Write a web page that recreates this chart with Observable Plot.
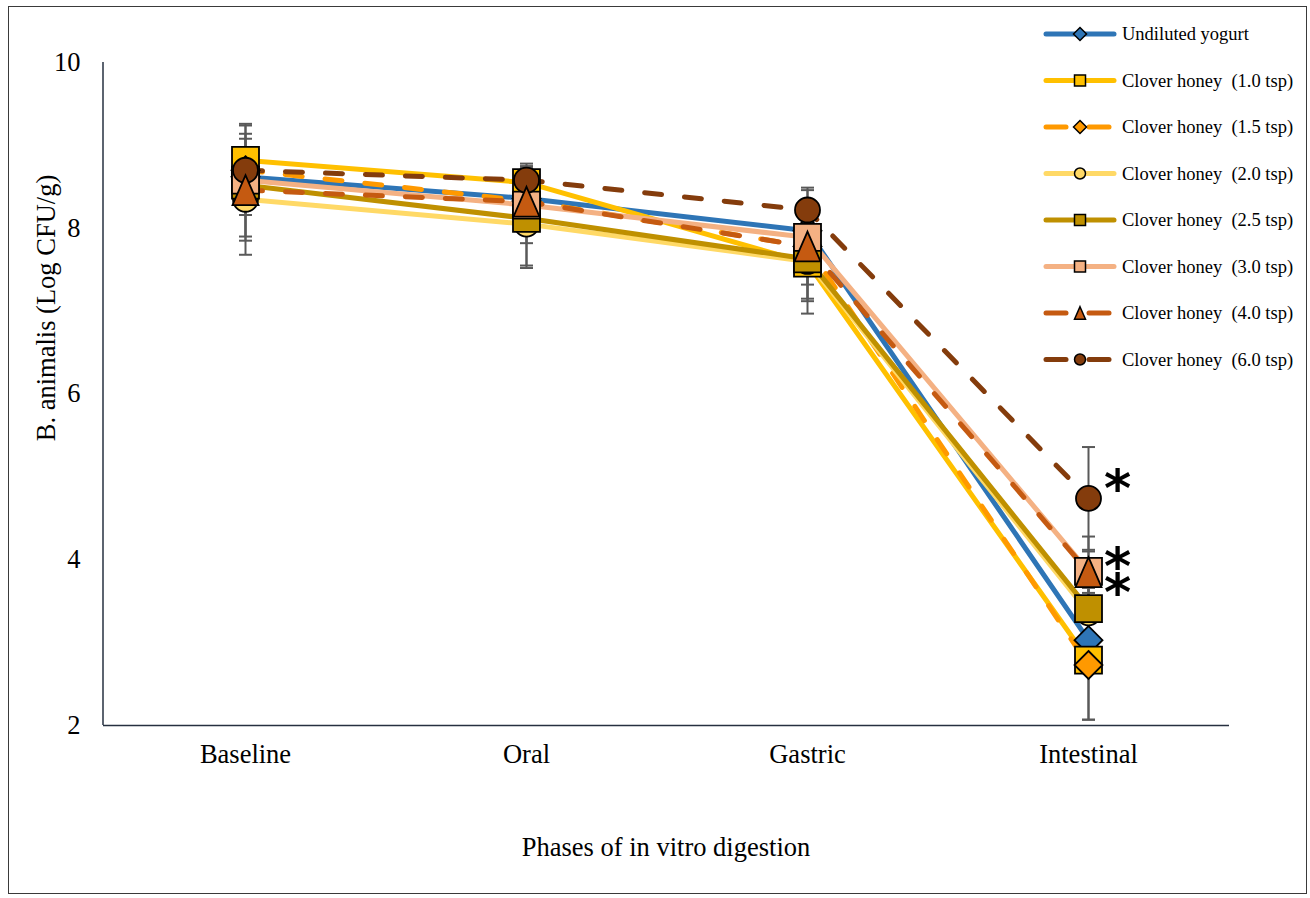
<!DOCTYPE html>
<html><head><meta charset="utf-8">
<script src="https://cdn.jsdelivr.net/npm/d3@7"></script>
<script src="https://cdn.jsdelivr.net/npm/@observablehq/plot@0.6"></script>
<style>
body{margin:0;background:#fff;}
#wrap{position:relative;width:1310px;height:898px;font-family:"Liberation Serif","Times New Roman",serif;overflow:hidden;}
#frame{position:absolute;left:8px;top:6px;width:1299px;height:888px;border:1.5px solid #3a3a3a;box-sizing:border-box;pointer-events:none;}
#chart{position:absolute;left:0;top:0;}
#legend{position:absolute;left:0;top:0;}
</style></head><body>
<div id="wrap"><div id="chart"></div><svg id="legend" width="1310" height="898"></svg><div id="frame"></div></div>
<script>
const phases = ["Baseline", "Oral", "Gastric", "Intestinal"];
const seriesNames = ["Undiluted yogurt","Clover honey  (1.0 tsp)","Clover honey  (1.5 tsp)","Clover honey  (2.0 tsp)","Clover honey  (2.5 tsp)","Clover honey  (3.0 tsp)","Clover honey  (4.0 tsp)","Clover honey  (6.0 tsp)"];
const seriesColors = ["#2E75B6","#FFC000","#FF9900","#FFD966","#BF9000","#F4B183","#C55A11","#843C0C"];
const seriesDashed = [false,false,true,false,false,false,true,true];
const seriesMarkers = ["diamond","square","diamond","circle","square","square","triangle","circle"];

const meanYogurt  = [8.62, 8.36, 7.97, 3.03];
const meanHoney10 = [8.82, 8.55, 7.58, 2.79];
const meanHoney15 = [8.70, 8.33, 7.78, 2.73];
const meanHoney20 = [8.35, 8.05, 7.60, 3.36];
const meanHoney25 = [8.52, 8.12, 7.63, 3.41];
const meanHoney30 = [8.58, 8.28, 7.89, 3.86];
const meanHoney40 = [8.46, 8.32, 7.78, 3.85];
const meanHoney60 = [8.70, 8.58, 8.22, 4.74];

const sdYogurt  = [0.46, 0.20, 0.20, 0.30];
const sdHoney10 = [0.44, 0.20, 0.46, 0.72];
const sdHoney15 = [0.20, 0.20, 0.20, 0.66];
const sdHoney20 = [0.50, 0.50, 0.45, 0.30];
const sdHoney25 = [0.62, 0.60, 0.66, 0.30];
const sdHoney30 = [0.25, 0.46, 0.57, 0.42];
const sdHoney40 = [0.78, 0.25, 0.25, 0.25];
const sdHoney60 = [0.25, 0.20, 0.27, 0.62];

const yTicks = [2, 4, 6, 8, 10];
const yTitle = "B. animalis (Log CFU/g)";
const xTitle = "Phases of in vitro digestion";
// significance marks at the intestinal phase: anchor series and the asterisk text
const starSeries = ["Clover honey  (6.0 tsp)", "Clover honey  (3.0 tsp)"];
const starTexts = ["*", "*\n*"];

const allMeans = [meanYogurt, meanHoney10, meanHoney15, meanHoney20, meanHoney25, meanHoney30, meanHoney40, meanHoney60];
const allSds = [sdYogurt, sdHoney10, sdHoney15, sdHoney20, sdHoney25, sdHoney30, sdHoney40, sdHoney60];
const rows = [];
seriesNames.forEach((s, i) => phases.forEach((p, j) => rows.push({series: s, phase: p, mean: allMeans[i][j], sd: allSds[i][j]})));

const shapes = {
  square: {draw(ctx, size){const r = Math.sqrt(size/Math.PI); ctx.rect(-r,-r,2*r,2*r);}},
  circle: {draw(ctx, size){const r = Math.sqrt(size/Math.PI); ctx.moveTo(r,0); ctx.arc(0,0,r,0,2*Math.PI);}},
  diamond: {draw(ctx, size){const r = Math.sqrt(size/Math.PI); ctx.moveTo(0,-r); ctx.lineTo(r,0); ctx.lineTo(0,r); ctx.lineTo(-r,0); ctx.closePath();}},
  triangle: {draw(ctx, size){const r = Math.sqrt(size/Math.PI); ctx.moveTo(0,-1.15*r); ctx.lineTo(r,1.15*r); ctx.lineTo(-r,1.15*r); ctx.closePath();}},
  hline: {draw(ctx, size){const r = Math.sqrt(size/Math.PI); ctx.moveTo(-r,0); ctx.lineTo(r,0);}}
};
const markerR = {square: 13.5, circle: 12.5, diamond: 14, triangle: 13};
const legendR = {square: 5.5, circle: 5.5, diamond: 6.5, triangle: 5.5};

const W = 1310, H = 898, mL = 103, mR = 81, mT = 62, mB = 173;

const lineMarks = seriesNames.map((s, i) => Plot.line(rows.filter(d => d.series === s), {
  x: "phase", y: "mean", stroke: seriesColors[i], strokeWidth: 5,
  strokeDasharray: seriesDashed[i] ? "17,23" : null, strokeLinecap: "round", strokeLinejoin: "round"
}));
const errRule = Plot.ruleX(rows, {x: "phase", y1: d => d.mean - d.sd, y2: d => d.mean + d.sd, stroke: "#595959", strokeWidth: 2});
const capLo = Plot.dot(rows, {x: "phase", y: d => d.mean - d.sd, symbol: shapes.hline, r: 6.5, stroke: "#595959", strokeWidth: 2, fill: "none"});
const capHi = Plot.dot(rows, {x: "phase", y: d => d.mean + d.sd, symbol: shapes.hline, r: 6.5, stroke: "#595959", strokeWidth: 2, fill: "none"});
const markerOrder = [0,1,2,3,4,5,7,6];
const markerMarks = markerOrder.map(i => Plot.dot(rows.filter(d => d.series === seriesNames[i]), {
  x: "phase", y: "mean", symbol: shapes[seriesMarkers[i]], r: markerR[seriesMarkers[i]],
  fill: seriesColors[i], stroke: "#000", strokeWidth: 1.8
}));
const starShift = [-1, 17];
const starMarks = starSeries.map((s, k) => Plot.text(rows.filter(d => d.series === s && d.phase === "Intestinal"), {
  x: "phase", y: "mean", text: () => starTexts[k], dx: 29, dy: starShift[k], fontSize: 52, lineHeight: 0.5,
  fontWeight: "bold", fontFamily: "DejaVu Sans", fill: "#000", textAnchor: "middle"
}));

const chart = Plot.plot({
  width: W, height: H, marginLeft: mL, marginRight: mR, marginTop: mT, marginBottom: mB,
  style: {fontFamily: "'Liberation Serif', 'Times New Roman', serif", fontSize: "26.5px", color: "#000", background: "transparent"},
  x: {type: "point", domain: phases, padding: 0.5, label: null, tickSize: 0, tickPadding: 19},
  y: {domain: [2, 10], ticks: yTicks, label: null, tickSize: 0, tickPadding: 23},
  marks: [
    ...lineMarks,
    errRule, capLo, capHi,
    ...markerMarks,
    ...starMarks,
    Plot.ruleY([2], {stroke: "#263040", strokeWidth: 1.5})
  ]
});
document.getElementById("chart").appendChild(chart);

const svg = d3.select(chart);
svg.append("line").attr("x1", mL).attr("x2", mL).attr("y1", mT).attr("y2", H - mB)
  .attr("stroke", "#263040").attr("stroke-width", 1.5);
svg.append("text").attr("transform", "translate(46,308) rotate(-90)").attr("text-anchor", "middle")
  .attr("dominant-baseline", "central").attr("font-size", 26.5).attr("fill", "#000").text(yTitle);
svg.append("text").attr("x", (mL + W - mR) / 2).attr("y", 847).attr("text-anchor", "middle")
  .attr("dominant-baseline", "central").attr("font-size", 26.5).attr("fill", "#000").text(xTitle);

// legend
const lg = d3.select("#legend");
seriesNames.forEach((s, i) => {
  const y = 34 + i * 46.5;
  const g = lg.append("g");
  if (seriesDashed[i]) {
    g.append("line").attr("x1", 1046).attr("x2", 1066).attr("y1", y).attr("y2", y).attr("stroke", seriesColors[i]).attr("stroke-width", 5).attr("stroke-linecap", "round");
    g.append("line").attr("x1", 1089).attr("x2", 1109).attr("y1", y).attr("y2", y).attr("stroke", seriesColors[i]).attr("stroke-width", 5).attr("stroke-linecap", "round");
  } else {
    g.append("line").attr("x1", 1046).attr("x2", 1114).attr("y1", y).attr("y2", y).attr("stroke", seriesColors[i]).attr("stroke-width", 5).attr("stroke-linecap", "round");
  }
  const m = seriesMarkers[i], r = legendR[m];
  g.append("path").attr("transform", `translate(1080,${y})`).attr("d", d3.symbol(shapes[m], Math.PI * r * r)())
    .attr("fill", seriesColors[i]).attr("stroke", "#000").attr("stroke-width", 1.5);
  g.append("text").attr("x", 1122).attr("y", y).attr("dominant-baseline", "central")
    .attr("font-family", "'Liberation Serif', 'Times New Roman', serif").attr("font-size", 18.5)
    .style("white-space", "pre").attr("fill", "#000").text(s);
});
</script>
</body></html>
